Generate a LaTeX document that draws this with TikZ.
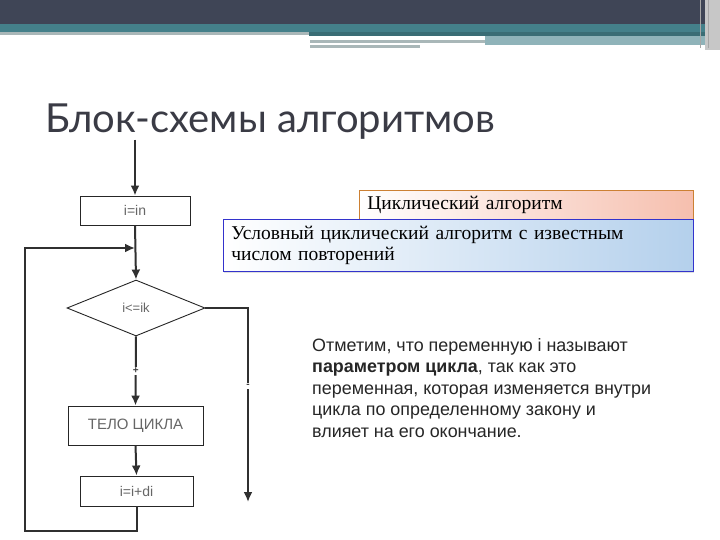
\documentclass[tikz,border=0pt]{standalone}
\usepackage{fontspec}
\setmainfont{Liberation Serif}
\newfontfamily\titlefont{Lato}
\newfontfamily\arialfont{Liberation Sans}
\usetikzlibrary{arrows.meta, positioning, shapes.geometric, shadows}
\definecolor{bandtop}{HTML}{3F4556}
\definecolor{bandteal}{HTML}{44808A}
\definecolor{bandgray}{HTML}{A9B7B8}
\definecolor{titlegray}{HTML}{3A3B45}
\definecolor{flowline}{HTML}{303030}
\definecolor{salmon}{HTML}{F6BFAE}
\definecolor{skyblue}{HTML}{B4D0EC}
\tikzset{
    flowarrow/.style={draw=flowline, fill=flowline, line width=2pt, -{Latex[length=10pt, width=9pt]}},
}

\begin{document}
\begin{tikzpicture}[x=1pt, y=1pt,
    proc/.style={draw=black!85, fill=white, line width=0.9pt, font=\arialfont\fontsize{14}{16}\selectfont, text=black!60, inner sep=0pt},
    cond/.style={diamond, draw=black!85, fill=white, line width=0.9pt, inner sep=0pt, aspect=2.4, font=\arialfont\fontsize{13}{15}\selectfont, text=black!60},
    branchlabel/.style={fill=white, inner sep=1.5pt, font=\arialfont\bfseries\fontsize{10}{12}\selectfont, text=black!75},
    callout/.style={draw=#1!60!gray, line width=0.6pt, align=left, anchor=north west, inner sep=0pt, font=\fontsize{19.5}{21}\selectfont},
]
\useasboundingbox (0,0) rectangle (720,-540);
\fill[white] (0,0) rectangle (720,-540);

% slide header bands
\fill[bandtop] (0,0) rectangle (705,-24);
\fill[bandteal] (0,-24) rectangle (705,-32);
\fill[bandgray] (0,-32) rectangle (309,-35);
\fill[bandteal!85!black] (309,-32) rectangle (705,-36);
\fill[bandgray] (310,-40) rectangle (485,-43);
\fill[bandgray] (310,-45) rectangle (420,-48);
\fill[bandteal!60!white] (485,-36) rectangle (705,-45);
\fill[black!22] (705,0) rectangle (720,-50);
\draw[black!35] (700,0) -- (700,-48) (708,0) -- (708,-48);

% title
\node[anchor=base west, font=\titlefont\fontsize{40}{48}\selectfont, text=titlegray, inner sep=0pt] (title) at (45,-133) {Блок-схемы алгоритмов};

% flowchart
\coordinate (entry) at (135,-140);
\node[proc, minimum width=110pt, minimum height=29pt] (init) at (135,-210.5) {i=in};
\node[cond, minimum width=138pt, minimum height=56pt] (check) at (136,-308) {i<=ik};
\node[proc, minimum width=135pt, minimum height=39pt, font=\arialfont\fontsize{15}{17}\selectfont] (body) at (135.5,-425.5) {ТЕЛО ЦИКЛА};
\node[proc, minimum width=113pt, minimum height=30pt] (step) at (136.5,-491) {i=i+di};
\coordinate (join) at (135,-248);
\coordinate (corner) at (25,-531);
\coordinate (exit) at (248,-502);

\path[flowarrow] (entry) -- (init.north);
\path[flowarrow] (init.south) -- (check.north);
\path[flowarrow] (check.south) -- node[branchlabel]{+} (body.north);
\path[flowarrow] (body.south) -- (step.north);
\path[flowarrow, fill=none] (step.south) |- (corner) |- (join);
\path[flowarrow, fill=none] (check.east) -| node[branchlabel, pos=0.7]{-} (exit);

% callouts
\node[callout=orange, left color=white, right color=salmon, minimum width=334pt, minimum height=30pt, text width=334pt] (cyclic) at (359,-190) {\hspace{8pt}\raisebox{3pt}{Циклический алгоритм}};
\node[callout=blue, left color=white, right color=skyblue, minimum width=470pt, minimum height=52pt, text width=470pt, drop shadow={opacity=0.25, shadow xshift=1pt, shadow yshift=-2pt}] (counted) at (223,-219) {\hspace{8pt}\parbox[c]{455pt}{Условный циклический алгоритм с известным\\числом повторений}};

% explanation
\node[anchor=north west, align=left, inner sep=0pt, font=\arialfont\fontsize{17.9}{21.5}\selectfont, text=black!85] (note) at (312,-338) {Отметим, что переменную i называют\\\textbf{параметром цикла}, так как это\\переменная, которая изменяется внутри\\цикла по определенному закону и\\влияет на его окончание.};
\end{tikzpicture}
\end{document}
